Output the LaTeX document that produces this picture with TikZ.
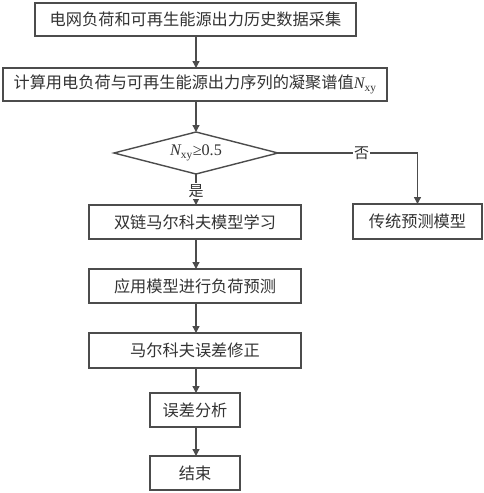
\documentclass[tikz,border=0pt]{standalone}
\usepackage{fontspec}
\setmainfont{Liberation Serif}
\newfontfamily\cjk{Noto Sans CJK SC}
\usetikzlibrary{shapes.geometric,arrows.meta}
\tikzset{
  box/.style={draw=black!70, line width=1.4pt, fill=white, inner sep=0pt, outer sep=0pt,
    font=\cjk\fontsize{16.2}{18}\selectfont, text=black!80},
  link/.style={draw=black!70, line width=1.3pt, -{Triangle[length=7pt,width=7pt]}},
  lab/.style={fill=white, inner sep=1pt, font=\cjk\fontsize{15}{16}\selectfont, text=black!80}
}
\newcommand{\Nxy}{{\itshape N}\textsubscript{xy}}
\begin{document}
\begin{tikzpicture}[x=1pt,y=-1pt]
\useasboundingbox (0,0) rectangle (484,493);
\node[box, minimum width=321pt, minimum height=33pt] (b1) at (195.5,19.5) {电网负荷和可再生能源出力历史数据采集};
\node[box, minimum width=384pt, minimum height=33pt] (b2) at (195,84.5) {计算用电负荷与可再生能源出力序列的凝聚谱值{\rmfamily\Nxy}};
\node[box, diamond, aspect=3.9, minimum width=164pt, minimum height=42pt] (d) at (196,153) {};
\node[font=\rmfamily\fontsize{16.2}{18}\selectfont, text=black!80, inner sep=0pt] (dt) at (196,153) {\Nxy≥0.5};
\node[box, minimum width=212pt, minimum height=34pt] (b3) at (195,222) {双链马尔科夫模型学习};
\node[box, minimum width=129pt, minimum height=35pt] (b4) at (417.5,221.5) {传统预测模型};
\node[box, minimum width=212pt, minimum height=34pt] (b5) at (195,286) {应用模型进行负荷预测};
\node[box, minimum width=212pt, minimum height=35pt] (b6) at (195,350.5) {马尔科夫误差修正};
\node[box, minimum width=90pt, minimum height=34pt] (b7) at (195,410) {误差分析};
\node[box, minimum width=90pt, minimum height=34pt] (b8) at (195,473) {结束};
\coordinate (c1) at (417.5,153);
\draw[link] (b1.south -| 196,0) -- (b2.north -| 196,0);
\draw[link] (b2.south -| 196,0) -- (d.north);
\draw[link] (d.south) -- node[lab, pos=0.55] {是} (b3.north -| 196,0);
\draw[link] (d.east) -- node[lab, pos=0.6] {否} (c1) -- (b4.north);
\draw[link] (b3.south -| 196,0) -- (b5.north -| 196,0);
\draw[link] (b5.south -| 196,0) -- (b6.north -| 196,0);
\draw[link] (b6.south -| 196,0) -- (b7.north -| 196,0);
\draw[link] (b7.south -| 196,0) -- (b8.north -| 196,0);
\end{tikzpicture}
\end{document}
